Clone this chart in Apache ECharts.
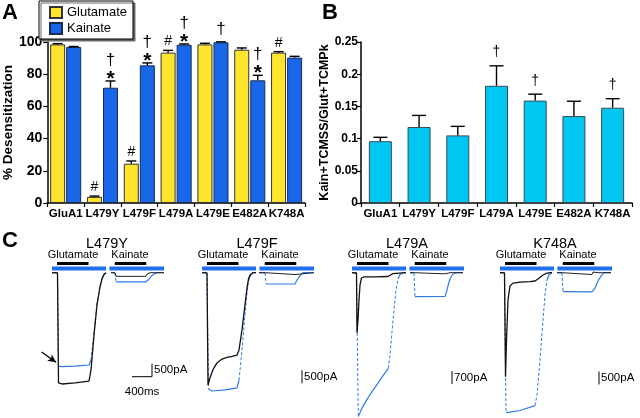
<!DOCTYPE html>
<html><head><meta charset="utf-8">
<script src="https://cdn.jsdelivr.net/npm/echarts@6/dist/echarts.min.js"></script>
<style>html,body{margin:0;padding:0;background:#fff}#c{width:640px;height:418px}</style>
</head><body><div id="c"></div>
<script>
// ---------- Panel A / B data ----------
const categories = ['GluA1','L479Y','L479F','L479A','L479E','E482A','K748A'];
const glutDes = [98.5, 3.8, 24.4, 93.4, 98.5, 95.2, 93.4];
const glutErr = [0.5, 0.5, 1.7, 1.4, 0.7, 1.1, 0.6];
const kainDes = [96.9, 71.6, 85.5, 98.3, 99.8, 76.2, 90.3];
const kainErr = [0.3, 4.2, 1.5, 0.5, 0.3, 3.1, 0.8];
const glutSig = ['', '#', '#', '#', '', '', '#'];
const kainSig = ['', '*†', '*†', '*†', '†', '*†', ''];
const ratioVal = [0.096, 0.118, 0.105, 0.182, 0.159, 0.135, 0.148];
const ratioErr = [0.006, 0.018, 0.014, 0.031, 0.010, 0.023, 0.014];
const ratioSig = ['', '', '', '†', '†', '', '†'];
const yTicksA = [0, 20, 40, 60, 80, 100];
const yTicksB = [0, 0.05, 0.1, 0.15, 0.2, 0.25];

// ---------- Panel C traces: [time ms, current pA] ----------
const y_gluBlack = [[0,0],[110,-10],[130,-4240],[200,-4280],[460,-4240],[740,-4170],[780,-3740],[840,-2400],[900,-1240],[960,-550],[1000,-240],[1040,-70],[1080,0]];
const y_gluBlue  = [[0,0],[110,-10],[130,-3590],[200,-3610],[460,-3590],[740,-3550],[780,-3360],[840,-2280],[900,-1170],[960,-510],[1000,-200],[1040,-70],[1080,0]];
const y_kaiBlack = [[1180,0],[1260,0],[1280,-140],[1880,-140],[1900,-50],[1960,0],[2240,0]];
const y_kaiBlue  = [[1180,0],[1260,-10],[1280,-350],[1880,-350],[1940,-250],[2000,-110],[2060,-30],[2120,0],[2240,0]];

const f_gluBlack = [[0,0],[100,-10],[120,-4320],[160,-4040],[220,-3730],[300,-3470],[400,-3320],[500,-3260],[600,-3220],[700,-3170],[740,-2970],[800,-2200],[860,-1240],[900,-590],[930,-240],[960,-90],[1020,0],[1080,0]];
const f_gluBlue  = [[0,0],[100,-10],[130,-4470],[200,-4550],[460,-4510],[700,-4430],[740,-4130],[800,-2970],[860,-1620],[900,-780],[930,-320],[960,-130],[1020,0],[1080,0]];
const f_kaiBlack = [[1140,0],[1260,0],[1280,-70],[1860,-70],[1880,0],[2240,0]];
const f_kaiBlue  = [[1140,0],[1260,-10],[1280,-435],[1860,-435],[1900,-280],[1960,-110],[2020,0],[2240,0]];

const a_gluBlack = [[0,0],[90,-15],[100,-3250],[120,-2550],[140,-1480],[160,-660],[190,-285],[240,-230],[460,-230],[720,-205],[760,-100],[820,-45],[1080,0]];
const a_gluBlue  = [[0,0],[90,-15],[126,-7750],[200,-7290],[294,-6850],[380,-6480],[494,-6050],[600,-5620],[726,-5150],[760,-4430],[820,-2550],[880,-930],[920,-340],[960,-100],[1020,0],[1080,0]];
const a_kaiBlack = [[1160,0],[1240,0],[1260,-60],[1840,-60],[1860,10],[1900,-40],[1960,0],[2220,0]];
const a_kaiBlue  = [[1160,0],[1240,-15],[1260,-1290],[1860,-1280],[1900,-930],[1940,-500],[1980,-230],[2020,-70],[2080,0],[2220,0]];

const k_gluBlack = [[0,0],[90,-10],[110,-4000],[130,-2590],[160,-1050],[200,-510],[260,-400],[400,-360],[600,-340],[700,-320],[760,-240],[800,-165],[860,-90],[920,-30],[1000,0],[1040,0]];
const k_gluBlue  = [[0,0],[90,-10],[120,-5385],[200,-5360],[400,-5300],[700,-5110],[740,-4700],[800,-3360],[860,-1820],[900,-860],[940,-280],[980,-90],[1040,0]];
const k_kaiBlack = [[1140,0],[1240,0],[1260,-50],[1840,-70],[1860,25],[1900,-30],[1960,0],[2220,0]];
const k_kaiBlue  = [[1140,0],[1240,-10],[1260,-730],[1840,-740],[1900,-590],[1960,-320],[2020,-130],[2080,0],[2220,0]];

// application periods (ms)
const gluBlueApp = [0, 1080];
const gluBlackApp = [100, 730];
const kaiBlueApp = [1150, 2240];
const kaiBlackApp = [1255, 1885];

// scale bars
const scaleNames = ['L479Y','L479F','L479A','K748A'];
const scalePA = [500, 500, 700, 500];
const scaleT = [2000, 2000, 2000, 1980];
const scaleTop = [-3500, -3750, -5300, -3800];
const timeBar = [1600, 2000];   // 400 ms, L479Y only
const arrowFrom = [-206, -3050];
const arrowTo = [80, -3446];

// ---------- build ----------
const fR = "'Liberation Sans',Arial,sans-serif";
const YEL = '#FFE52E', BLU = '#1767E8', CYAN = '#00C6F2';
const TRACE_BLUE = '#2f7be6', APP_BLUE = '#1f6ff0';

const chart = echarts.init(document.getElementById('c'));

function errRender(vals, errs, sigs, off, capHalf, mode) {
  return function (params, api) {
    const i = params.dataIndex;
    const b = api.coord([i, vals[i]]);
    const t = api.coord([i, vals[i] + errs[i]]);
    const x = b[0] + off, yc = t[1];
    const st = {stroke: '#000', lineWidth: 1.4};
    const ch = [
      {type: 'line', shape: {x1: x, y1: b[1], x2: x, y2: yc}, style: st},
      {type: 'line', shape: {x1: x - capHalf, y1: yc, x2: x + capHalf, y2: yc}, style: st}
    ];
    const s = sigs[i];
    const txt = (str, y, font) => ch.push({type: 'text', style: {text: str, x: x, y: y, font: font, fill: '#000', align: 'center', verticalAlign: 'middle'}});
    if (mode === 'A') {
      if (s.indexOf('#') >= 0) txt('#', yc - 9, '14px ' + fR);
      if (s.indexOf('*') >= 0) {
        txt('*', yc - 2, 'bold 21px ' + fR);
        if (s.indexOf('†') >= 0) txt('†', yc - 21, '17px ' + fR);
      } else if (s.indexOf('†') >= 0) txt('†', yc - 13, '17px ' + fR);
    } else {
      if (s.indexOf('†') >= 0) txt('†', yc - 13.5, '14px ' + fR);
    }
    return {type: 'group', children: ch};
  };
}

const grids = [
  {left: 38, top: 42, width: 267, height: 161},
  {left: 361, top: 42, width: 271, height: 161}
];
const axisLbl = {color: '#000', fontWeight: 'bold', fontFamily: fR, fontSize: 11.5, interval: 0, margin: 5};
const xAxes = [0, 1].map(g => ({gridIndex: g, type: 'category', data: categories,
  axisLine: {lineStyle: {color: '#000', width: 1.5}},
  axisTick: {show: true, length: 4, lineStyle: {color: '#000', width: 1.2}}, axisLabel: axisLbl}));
const yAxes = [
  {gridIndex: 0, type: 'value', min: yTicksA[0], max: yTicksA[yTicksA.length - 1], interval: yTicksA[1] - yTicksA[0],
   axisLine: {show: true, lineStyle: {color: '#000', width: 1.5}}, axisTick: {show: true, length: 4, lineStyle: {color: '#000', width: 1.2}},
   splitLine: {show: false}, axisLabel: {color: '#000', fontWeight: 'bold', fontFamily: fR, fontSize: 14, margin: 5},
   name: '% Desensitization', nameLocation: 'middle', nameGap: 25,
   nameTextStyle: {color: '#000', fontWeight: 'bold', fontFamily: fR, fontSize: 13.5}},
  {gridIndex: 1, type: 'value', min: yTicksB[0], max: yTicksB[yTicksB.length - 1], interval: yTicksB[1] - yTicksB[0],
   axisLine: {show: true, lineStyle: {color: '#000', width: 1.5}}, axisTick: {show: true, length: 4, lineStyle: {color: '#000', width: 1.2}},
   splitLine: {show: false}, axisLabel: {color: '#000', fontWeight: 'bold', fontFamily: fR, fontSize: 12, margin: 3},
   name: 'Kain+TCMSS/Glut+TCMPk', nameLocation: 'middle', nameGap: 20,
   nameTextStyle: {color: '#000', fontWeight: 'bold', fontFamily: fR, fontSize: 12.5}}
];

const series = [
  {name: 'Glutamate', type: 'bar', xAxisIndex: 0, yAxisIndex: 0, data: glutDes, barWidth: 15, barGap: '7%',
   itemStyle: {color: YEL, borderColor: '#333', borderWidth: 1}},
  {name: 'Kainate', type: 'bar', xAxisIndex: 0, yAxisIndex: 0, data: kainDes, barWidth: 15, barGap: '7%',
   itemStyle: {color: BLU, borderColor: '#1a2a55', borderWidth: 1}},
  {type: 'custom', xAxisIndex: 0, yAxisIndex: 0, z: 5, data: glutDes.map((v, i) => [i, v + glutErr[i]]),
   renderItem: errRender(glutDes, glutErr, glutSig, -8, 5, 'A')},
  {type: 'custom', xAxisIndex: 0, yAxisIndex: 0, z: 5, data: kainDes.map((v, i) => [i, v + kainErr[i]]),
   renderItem: errRender(kainDes, kainErr, kainSig, 8, 5, 'A')},
  {name: 'ratio', type: 'bar', xAxisIndex: 1, yAxisIndex: 1, data: ratioVal, barWidth: 23,
   itemStyle: {color: CYAN, borderColor: '#3a4c55', borderWidth: 1}},
  {type: 'custom', xAxisIndex: 1, yAxisIndex: 1, z: 5, data: ratioVal.map((v, i) => [i, v + ratioErr[i]]),
   renderItem: errRender(ratioVal, ratioErr, ratioSig, 0, 7, 'B')}
];

// trace panels
const BASE_PX = 272.7, TOP_PX = 256, BOT_PX = 418, MS_PER_PX = 20;
const panelStart = [52, 202, 352, 500];
const traceSets = [
  [y_gluBlue, y_kaiBlue, y_gluBlack, y_kaiBlack],
  [f_gluBlue, f_kaiBlue, f_gluBlack, f_kaiBlack],
  [a_gluBlue, a_kaiBlue, a_gluBlack, a_kaiBlack],
  [k_gluBlue, k_kaiBlue, k_gluBlack, k_kaiBlack]
];
const graphics = [];
const txt = (s, x, y, font, align) => graphics.push({type: 'text', style: {text: s, x: x, y: y, font: font, fill: '#000', align: align || 'center', verticalAlign: 'middle'}});

// split a trace into runs of fast (steep) and slow segments; fast ones drawn dashed like the sampled original
function splitRuns(data, k) {
  const runs = [];
  for (let i = 1; i < data.length; i++) {
    const dx = (data[i][0] - data[i - 1][0]) / MS_PER_PX;
    const dy = Math.abs(data[i][1] - data[i - 1][1]) / k;
    const fast = dy > 4 * Math.max(dx, 0.01) && dy > 6;
    const last = runs[runs.length - 1];
    if (last && last.fast === fast) last.pts.push(data[i]);
    else runs.push({fast: fast, pts: [data[i - 1], data[i]]});
  }
  return runs;
}

scaleNames.forEach((nm, p) => {
  const gi = 2 + p;
  const k = scalePA[p] / 13; // pA per pixel
  const s = panelStart[p];
  grids.push({left: s - 16, top: TOP_PX, width: 140, height: BOT_PX - TOP_PX});
  xAxes.push({gridIndex: gi, type: 'value', min: -16 * MS_PER_PX, max: (140 - 16) * MS_PER_PX, show: false});
  yAxes.push({gridIndex: gi, type: 'value', min: -(BOT_PX - BASE_PX) * k, max: (BASE_PX - TOP_PX) * k, show: false});
  const tr = traceSets[p];
  const line = (data, color, w, z, dashed) => ({type: 'line', xAxisIndex: gi, yAxisIndex: gi, data: data, symbol: 'none',
    lineStyle: {color: color, width: w, type: dashed ? [3, 2] : 'solid'}, z: z, silent: true});
  // application bars
  const blueLvl = 4.2 * k, blackLvl = 9.2 * k;
  series.push(line([[gluBlueApp[0], blueLvl], [gluBlueApp[1], blueLvl]], APP_BLUE, 4, 2));
  series.push(line([[kaiBlueApp[0], blueLvl], [kaiBlueApp[1], blueLvl]], APP_BLUE, 4, 2));
  series.push(line([[gluBlackApp[0], blackLvl], [gluBlackApp[1], blackLvl]], '#000', 3, 2));
  series.push(line([[kaiBlackApp[0], blackLvl], [kaiBlackApp[1], blackLvl]], '#000', 3, 2));
  // blue traces (fast parts dashed)
  [tr[0], tr[1]].forEach((d, j) => {
    splitRuns(d, k).forEach((r, ri) => {
      const sr = line(r.pts, TRACE_BLUE, r.fast ? 1 : 1.2, 3, r.fast);
      if (p === 0 && j === 0 && ri === 0) {
        sr.markLine = {silent: true, symbol: ['none', 'arrow'], symbolSize: [6, 8], label: {show: false},
          lineStyle: {color: '#000', width: 1.3, type: 'solid'},
          data: [[{coord: arrowFrom}, {coord: arrowTo}]]};
      }
      series.push(sr);
    });
  });
  series.push(line(tr[2], '#111', 1.3, 4));
  series.push(line(tr[3], '#222', 1.0, 4));
  // scale bar
  const t = scaleT[p], y1 = scaleTop[p], y2 = scaleTop[p] - scalePA[p];
  series.push({type: 'line', xAxisIndex: gi, yAxisIndex: gi, symbol: 'circle', symbolSize: 0.1, silent: true, z: 4,
    itemStyle: {color: 'rgba(0,0,0,0)'}, lineStyle: {color: '#000', width: 1},
    data: [[t, y1], {value: [t, (y1 + y2) / 2], label: {show: true, position: 'right', distance: 2, formatter: scalePA[p] + 'pA',
      color: '#000', fontFamily: fR, fontSize: 11.5}}, [t, y2]]});
  if (p === 0) {
    series.push({type: 'line', xAxisIndex: gi, yAxisIndex: gi, symbol: 'circle', symbolSize: 0.1, silent: true, z: 4,
      itemStyle: {color: 'rgba(0,0,0,0)'}, lineStyle: {color: '#000', width: 1},
      data: [[timeBar[0], y2], {value: [(timeBar[0] + timeBar[1]) / 2, y2], label: {show: true, position: 'bottom', distance: 9,
        formatter: (timeBar[1] - timeBar[0]) + 'ms', color: '#000', fontFamily: fR, fontSize: 11.5}}, [timeBar[1], y2]]});
  }
  // texts
  txt(nm, s + 55, 244, '14.5px ' + fR);
  txt('Glutamate', s + 21, 255, '11px ' + fR);
  txt('Kainate', s + 78, 255, '11px ' + fR);
});

txt('A', 2, 13, 'bold 22px ' + fR, 'left');
txt('B', 322, 13, 'bold 22px ' + fR, 'left');
txt('C', 2, 241, 'bold 22px ' + fR, 'left');

chart.setOption({
  animation: false,
  backgroundColor: '#fff',
  legend: {data: ['Glutamate', 'Kainate'], left: 39, top: 1, orient: 'vertical', icon: 'rect',
    itemWidth: 12, itemHeight: 11, itemGap: 3, padding: [5, 6, 4, 10],
    textStyle: {color: '#000', fontFamily: fR, fontSize: 13},
    borderColor: '#000', borderWidth: 1, backgroundColor: '#fff',
    shadowColor: '#666', shadowOffsetX: 2, shadowOffsetY: 2, shadowBlur: 0, selectedMode: false},
  grid: grids, xAxis: xAxes, yAxis: yAxes, series: series, graphic: graphics
});
</script></body></html>
